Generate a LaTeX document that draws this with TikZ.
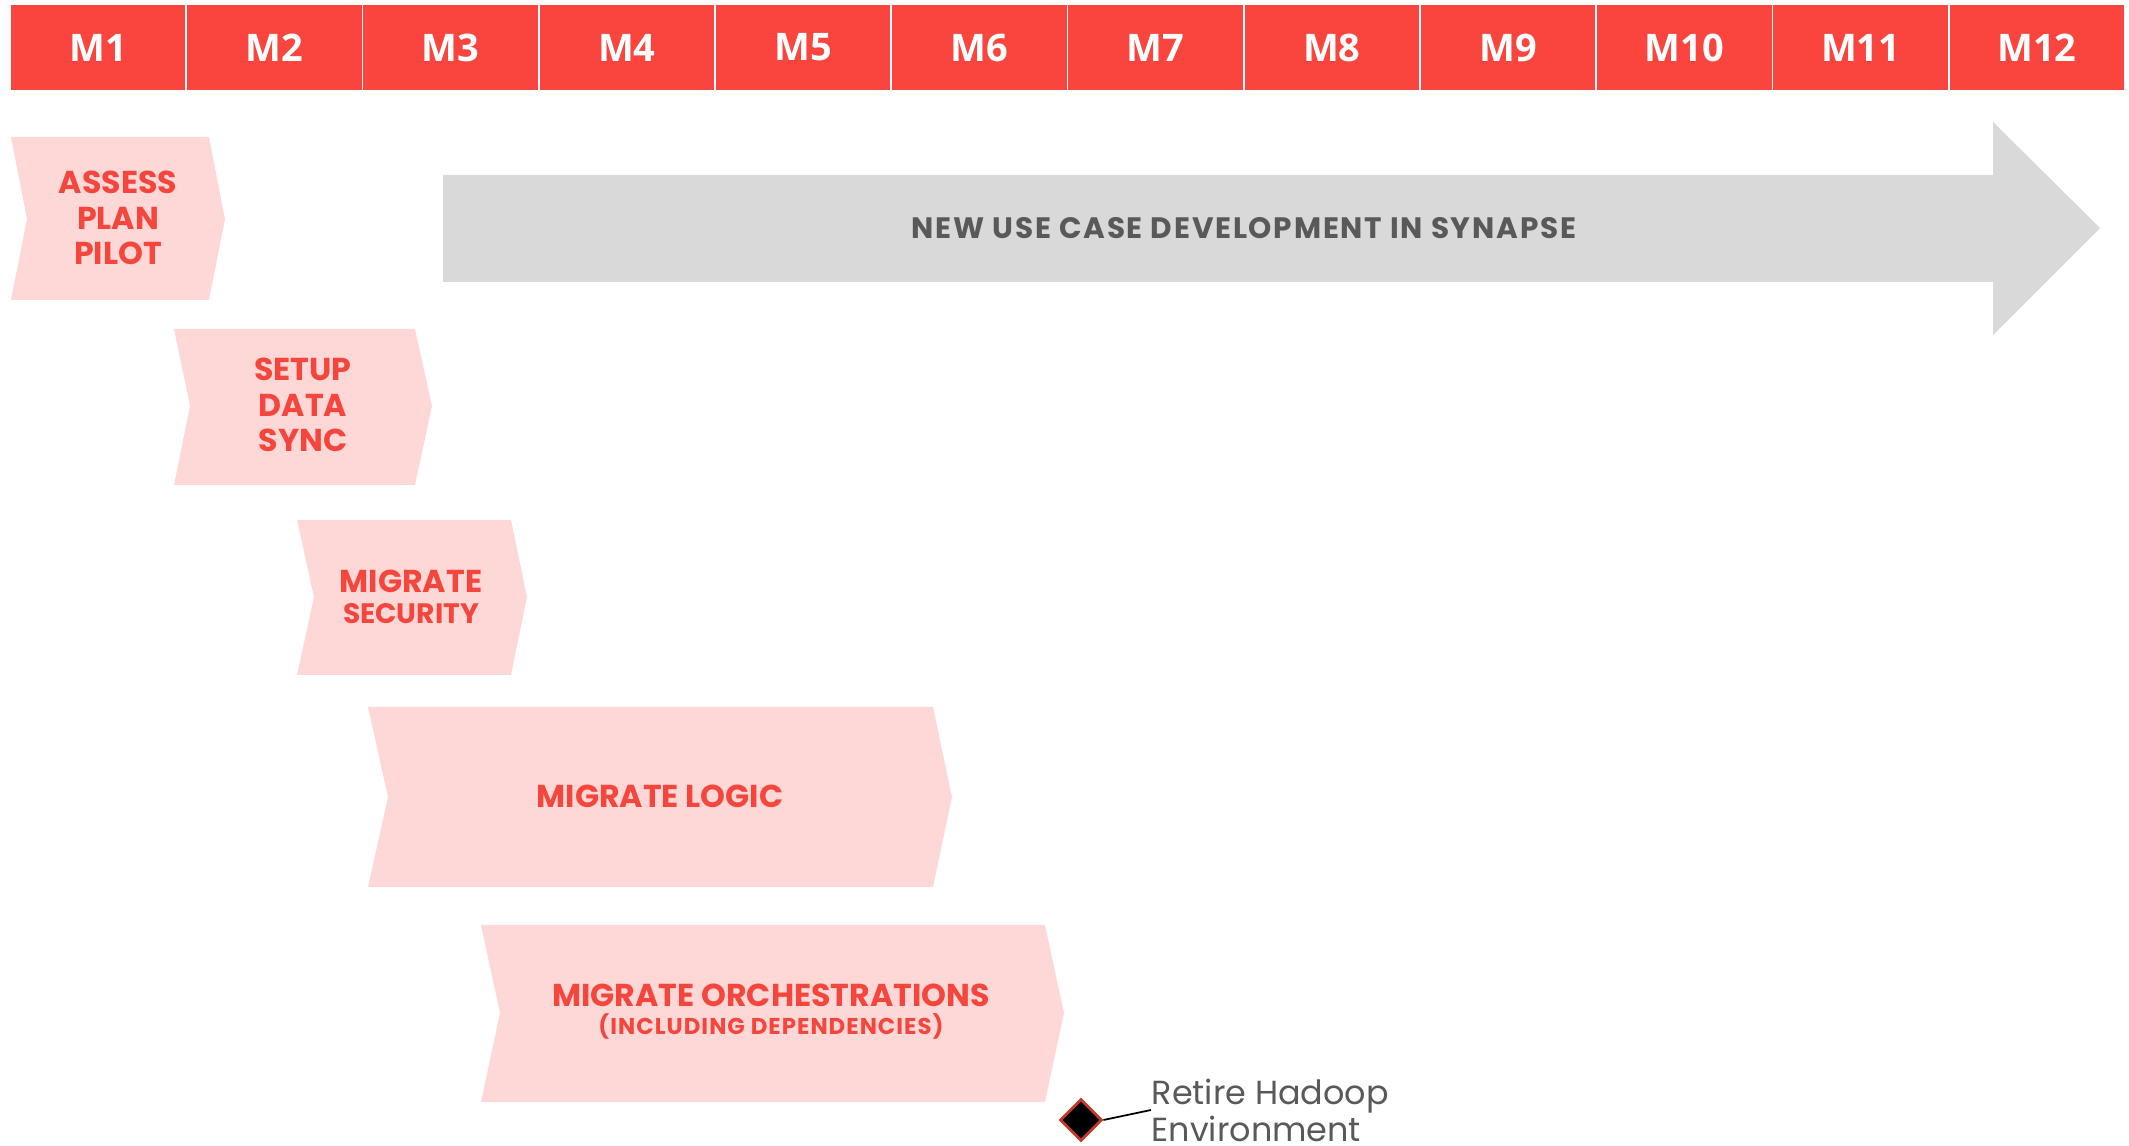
\documentclass[tikz,border=0pt]{standalone}
\usepackage{fontspec}
\setmainfont{Poppins}
\newfontfamily\headfont{Open Sans}
\newfontfamily\widefont{Poppins}[LetterSpace=6]
\newfontfamily\notefont{Poppins}[LetterSpace=4.5]
\usetikzlibrary{shapes.geometric}

\definecolor{headred}{HTML}{F9453E}
\definecolor{phasepink}{HTML}{FDD8D7}
\definecolor{phasered}{HTML}{F5463D}
\definecolor{arrowgray}{HTML}{D9D9D9}
\definecolor{textgray}{HTML}{595959}
\definecolor{mileborder}{HTML}{C0392B}

\tikzset{
  month/.style={fill=headred, text=white, minimum width=1.7425cm, minimum height=0.85cm,
    inner sep=0pt, font=\headfont\bfseries\fontsize{10.8}{12}\selectfont},
  phase/.style={fill=phasepink},
  phasetext/.style={text=phasered, align=center, inner sep=0pt,
    font=\bfseries\fontsize{9}{10}\selectfont},
  usecase/.style={fill=arrowgray},
  milestone/.style={diamond, draw=mileborder, fill=black, line width=0.8pt,
    minimum width=0.42cm, minimum height=0.42cm, inner sep=0pt},
}

\begin{document}
\begin{tikzpicture}[x=0.01cm, y=-0.01cm]
    \useasboundingbox (0,0) rectangle (2129,1146);

    % Month header
    \foreach \i in {1,...,12} {
        \node[month] (m\i) at ({98.1+176.25*(\i-1)}, 47.5) {M\i};
    }

    % Use case arrow
    \fill[usecase] (443,175) -- (1993,175) -- (1993,122) -- (2100,228)
        -- (1993,335) -- (1993,282) -- (443,282) -- cycle;
    \node[text=textgray, font=\widefont\bfseries\fontsize{8.4}{10}\selectfont] (synapse) at (1244,228)
        {NEW USE CASE DEVELOPMENT IN SYNAPSE};

    % Phase chevrons
    \fill[phase] (11,137) -- (209,137) -- (225,219) -- (209,300) -- (11,300) -- (27,219) -- cycle;
    \fill[phase] (174,329) -- (415,329) -- (432,406) -- (415,485) -- (174,485) -- (190,406) -- cycle;
    \fill[phase] (297,520) -- (511,520) -- (527,597) -- (511,675) -- (297,675) -- (314,597) -- cycle;
    \fill[phase] (368,707) -- (933,707) -- (952,797) -- (933,887) -- (368,887) -- (388,797) -- cycle;
    \fill[phase] (481,925) -- (1045,925) -- (1064,1013) -- (1045,1102) -- (481,1102) -- (500,1013) -- cycle;

    % Phase labels
    \node[phasetext] (assess) at (118,218) {ASSESS\\PLAN\\PILOT};
    \node[phasetext] (sync) at (303,405) {SETUP\\DATA\\SYNC};
    \node[phasetext] (security) at (411,597) {MIGRATE\\[-1pt]\fontsize{8}{9}\selectfont SECURITY};
    \node[phasetext] (logic) at (660,796) {MIGRATE LOGIC};
    \node[phasetext] (orchestration) at (771,1012)
        {MIGRATE ORCHESTRATIONS\\[-2pt]\notefont\bfseries\fontsize{6.5}{7.5}\selectfont(INCLUDING DEPENDENCIES)};

    % Milestone
    \node[milestone] (retire) at (1081,1120) {};
    \node[anchor=west, align=left, text=textgray, inner sep=0pt,
        font=\fontsize{9.5}{10.5}\selectfont] (retirelabel) at (1151,1110)
        {Retire Hadoop\\Environment};
    \draw[black, line width=0.5pt] (retire.east) -- (retirelabel.west);
\end{tikzpicture}
\end{document}
